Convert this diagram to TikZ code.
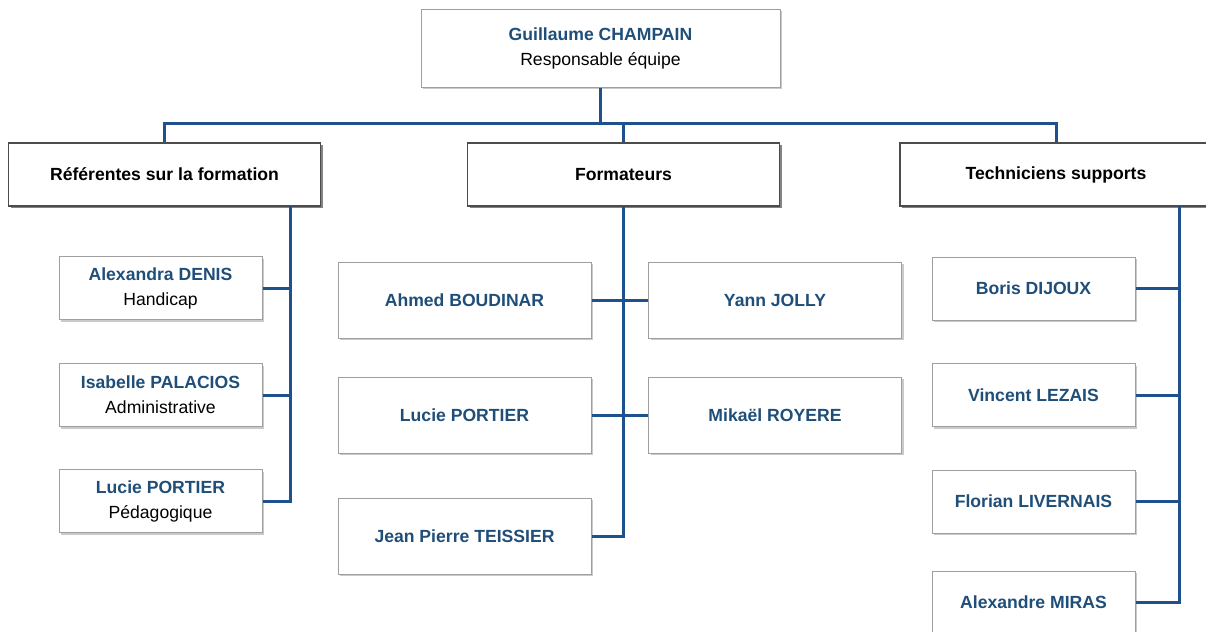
\documentclass[tikz,border=0pt]{standalone}
\usepackage{fontspec}
\setmainfont{Liberation Sans}
\usepackage{tikz}
\usetikzlibrary{shadows}
\definecolor{nameblue}{RGB}{31,78,121}
\definecolor{linkblue}{RGB}{31,82,140}

\begin{document}
\begin{tikzpicture}[
        x=0.5pt, y=-0.5pt,
        every node/.style={align=center, font=\fontsize{8.8}{12.5}\selectfont, inner sep=0pt},
        box/.style={draw=gray!75, line width=0.5pt, fill=white,
            drop shadow={shadow xshift=1pt, shadow yshift=-1pt, fill=gray!70, opacity=0.6}},
        chefbox/.style={box, minimum width=179.5pt, minimum height=39pt},
        catbox/.style={box, draw=black!70, line width=0.7pt, minimum width=156pt, minimum height=31.5pt,
            font=\fontsize{8.8}{12.5}\selectfont\bfseries,
            drop shadow={shadow xshift=1pt, shadow yshift=-1.2pt, fill=black!60, opacity=0.7}},
        smallbox/.style={box, minimum width=101.5pt, minimum height=31.5pt},
        widebox/.style={box, minimum width=126.5pt, minimum height=38pt},
        link/.style={draw=linkblue, line width=1.5pt},
    ]
    \useasboundingbox (0,0) rectangle (1206,632);
    \clip (0,0) rectangle (1206,632);
    \newcommand{\who}[1]{\textcolor{nameblue}{\bfseries #1}}

    % head of the team
    \node[chefbox] (chef) at (600.5,48) {\who{Guillaume CHAMPAIN}\\Responsable équipe};

    % the three groups
    \node[catbox] (ref)  at (164.5,174.5) {Référentes sur la formation};
    \node[catbox] (form) at (623.5,174.5) {Formateurs};
    \node[catbox] (tech) at (1056,174.5)  {Techniciens supports};

    % referentes
    \node[smallbox] (alex)  at (160.5,288) {\who{Alexandra DENIS}\\Handicap};
    \node[smallbox] (isa)   at (160.5,395) {\who{Isabelle PALACIOS}\\Administrative};
    \node[smallbox] (lucie) at (160.5,501) {\who{Lucie PORTIER}\\Pédagogique};

    % formateurs
    \node[widebox] (ahmed)  at (464.5,300) {\who{Ahmed BOUDINAR}};
    \node[widebox] (yann)   at (775,300)   {\who{Yann JOLLY}};
    \node[widebox] (luciep) at (464.5,415) {\who{Lucie PORTIER}};
    \node[widebox] (mika)   at (775,415)   {\who{Mikaël ROYERE}};
    \node[widebox] (jean)   at (464.5,536) {\who{Jean Pierre TEISSIER}};

    % techniciens
    \node[smallbox] (boris)   at (1033.5,288.5) {\who{Boris DIJOUX}};
    \node[smallbox] (vincent) at (1033.5,395)   {\who{Vincent LEZAIS}};
    \node[smallbox] (florian) at (1033.5,501.5) {\who{Florian LIVERNAIS}};
    \node[smallbox] (miras)   at (1033.5,602.5) {\who{Alexandre MIRAS}};

    % links from the head
    \coordinate (bus) at (600.5,123);
    \draw[link] (chef.south) -- (bus);
    \draw[link] (ref.north) |- (bus);
    \draw[link] (tech.north) |- (bus);
    \draw[link] (form.north) |- (bus);

    % spines
    \coordinate (refspine)  at (290,206);
    \coordinate (techspine) at (1179,206);
    \draw[link] (refspine) |- (lucie.east);
    \draw[link] (alex.east) -- (alex.east -| refspine);
    \draw[link] (isa.east) -- (isa.east -| refspine);
    \draw[link] (form.south) |- (jean.east);
    \draw[link] (ahmed.east) -- (yann.west);
    \draw[link] (luciep.east) -- (mika.west);
    \draw[link] (techspine) |- (miras.east);
    \draw[link] (boris.east) -- (boris.east -| techspine);
    \draw[link] (vincent.east) -- (vincent.east -| techspine);
    \draw[link] (florian.east) -- (florian.east -| techspine);
\end{tikzpicture}
\end{document}
